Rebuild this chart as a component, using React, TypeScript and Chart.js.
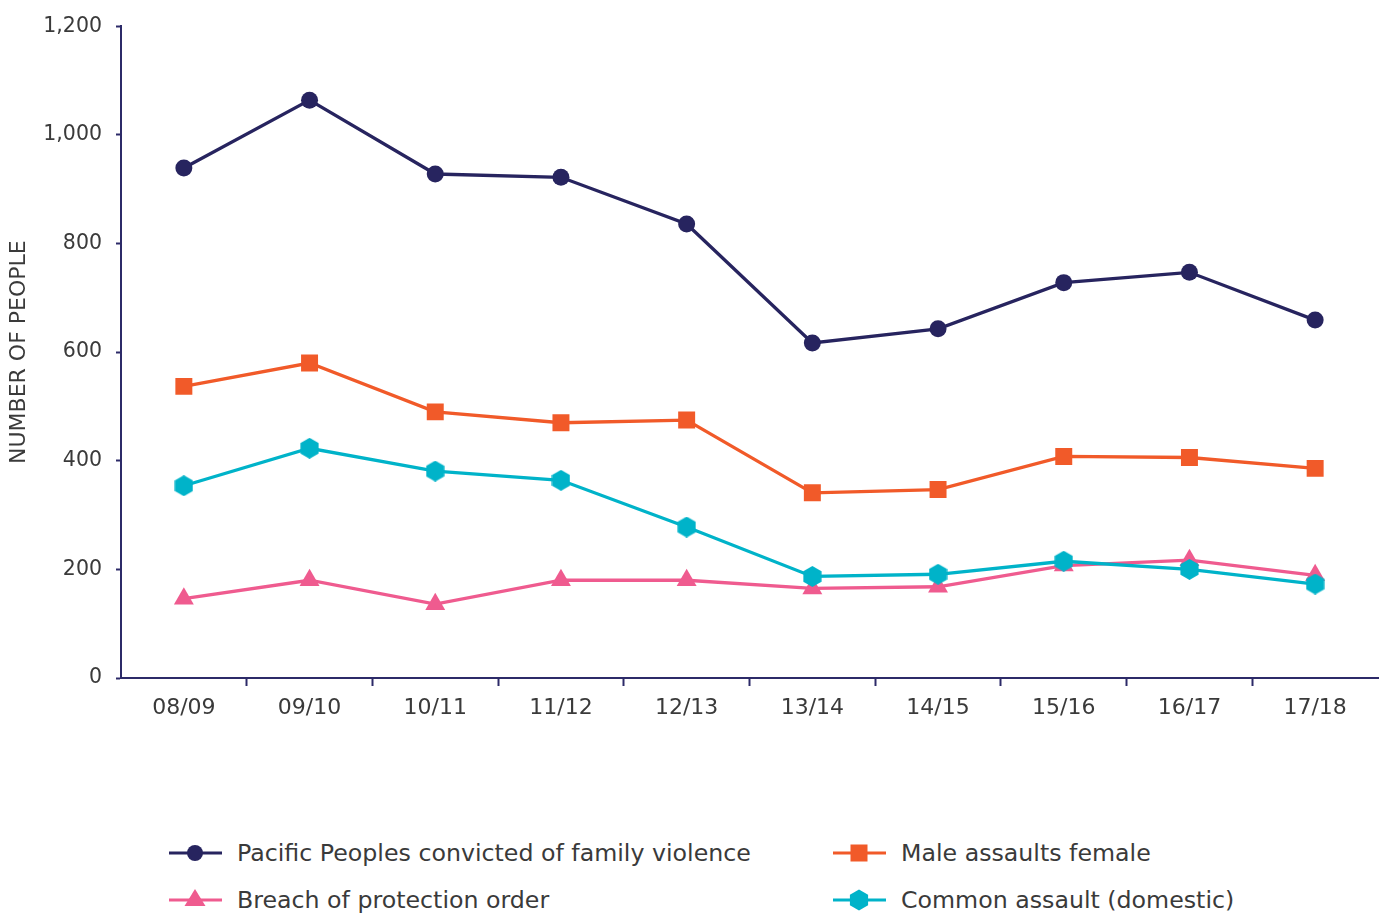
import React, { useEffect, useRef } from "react";
import { Chart, registerables } from "chart.js";

Chart.register(...registerables);

const categories = ["08/09", "09/10", "10/11", "11/12", "12/13", "13/14", "14/15", "15/16", "16/17", "17/18"];
const pacificConvicted = [939, 1064, 928, 922, 836, 617, 643, 728, 747, 659];
const maleAssaultsFemale = [537, 580, 490, 470, 475, 341, 347, 408, 406, 386];
const commonAssault = [354, 423, 381, 364, 278, 187, 191, 215, 200, 173];
const breachProtection = [146, 180, 136, 180, 180, 165, 168, 207, 217, 189];
const yTicks = [0, 200, 400, 600, 800, 1000, 1200];

const NAVY = "#27245f";
const ORANGE = "#f15a29";
const TEAL = "#00b3c9";
const PINK = "#ef5b8f";
const AXIS = "#2c2a68";
const TEXT = "#3a3a3a";
const FONT = "'DejaVu Sans', sans-serif";

function makeHexagon(color: string, r: number): HTMLCanvasElement {
  const w = Math.ceil(Math.sqrt(3) * r);
  const h = Math.ceil(2 * r);
  const c = document.createElement("canvas");
  c.width = w;
  c.height = h;
  const ctx = c.getContext("2d")!;
  ctx.fillStyle = color;
  ctx.beginPath();
  for (let i = 0; i < 6; i++) {
    const a = -Math.PI / 2 + (i * Math.PI) / 3;
    const x = w / 2 + r * Math.cos(a);
    const y = h / 2 + r * Math.sin(a);
    if (i === 0) ctx.moveTo(x, y);
    else ctx.lineTo(x, y);
  }
  ctx.closePath();
  ctx.fill();
  return c;
}

function LegendMarker({ kind, color }: { kind: string; color: string }) {
  const cx = 26;
  const cy = 15;
  let shape: React.ReactNode = null;
  if (kind === "circle") shape = <circle cx={cx} cy={cy} r={8} fill={color} />;
  if (kind === "rect") shape = <rect x={cx - 8.5} y={cy - 8.5} width={17} height={17} fill={color} />;
  if (kind === "triangle")
    shape = <polygon points={`${cx},${cy - 11} ${cx + 10.5},${cy + 6} ${cx - 10.5},${cy + 6}`} fill={color} />;
  if (kind === "hex") {
    const r = 10.5;
    const pts: string[] = [];
    for (let i = 0; i < 6; i++) {
      const a = -Math.PI / 2 + (i * Math.PI) / 3;
      pts.push(`${cx + r * Math.cos(a)},${cy + r * Math.sin(a)}`);
    }
    shape = <polygon points={pts.join(" ")} fill={color} />;
  }
  return (
    <svg width={53} height={30} style={{ display: "block" }}>
      <line x1={0} y1={cy} x2={53} y2={cy} stroke={color} strokeWidth={3} />
      {shape}
    </svg>
  );
}

const legendItems = [
  { label: "Pacific Peoples convicted of family violence", kind: "circle", color: NAVY, left: 169, top: 853 },
  { label: "Male assaults female", kind: "rect", color: ORANGE, left: 833, top: 853 },
  { label: "Breach of protection order", kind: "triangle", color: PINK, left: 169, top: 900 },
  { label: "Common assault (domestic)", kind: "hex", color: TEAL, left: 833, top: 900 },
];

export default function App() {
  const canvasRef = useRef<HTMLCanvasElement | null>(null);

  useEffect(() => {
    if (!canvasRef.current) return;
    const hex = makeHexagon(TEAL, 10.5);
    const chart = new Chart(canvasRef.current, {
      type: "line",
      data: {
        labels: categories,
        datasets: [
          {
            label: "Pacific Peoples convicted of family violence",
            data: pacificConvicted,
            borderColor: NAVY,
            backgroundColor: NAVY,
            borderWidth: 3.3,
            pointStyle: "circle",
            pointRadius: 8.5,
            pointBorderWidth: 0,
          },
          {
            label: "Male assaults female",
            data: maleAssaultsFemale,
            borderColor: ORANGE,
            backgroundColor: ORANGE,
            borderWidth: 3.3,
            pointStyle: "rect",
            pointRadius: 12,
            pointBorderWidth: 0,
          },
          {
            label: "Common assault (domestic)",
            data: commonAssault,
            borderColor: TEAL,
            backgroundColor: TEAL,
            borderWidth: 3.3,
            pointStyle: hex as any,
            pointRadius: 10,
            pointBorderWidth: 0,
          },
          {
            label: "Breach of protection order",
            data: breachProtection,
            borderColor: PINK,
            backgroundColor: PINK,
            borderWidth: 3.3,
            pointStyle: "triangle",
            pointRadius: 11.5,
            pointBorderWidth: 0,
          },
        ],
      },
      options: {
        animation: false,
        responsive: false,
        maintainAspectRatio: false,
        layout: { padding: { top: 23, right: 10, left: 0, bottom: 0 } },
        plugins: {
          legend: { display: false },
          tooltip: { enabled: false },
        },
        scales: {
          x: {
            type: "category",
            offset: true,
            border: { display: true, color: AXIS, width: 2 },
            grid: {
              display: true,
              offset: true,
              drawOnChartArea: false,
              drawTicks: true,
              tickLength: 8,
              tickWidth: 2,
              tickColor: (ctx: any) =>
                ctx.type !== "tick" || ctx.index === 0 ? "rgba(0,0,0,0)" : AXIS,
            },
            ticks: {
              color: TEXT,
              font: { family: FONT, size: 22 },
              padding: 9,
              maxRotation: 0,
            },
            afterFit: (scale: any) => {
              scale.height = 82;
            },
          },
          y: {
            min: 0,
            max: 1200,
            border: { display: true, color: AXIS, width: 2 },
            grid: {
              display: true,
              drawOnChartArea: false,
              drawTicks: true,
              tickLength: 5,
              tickWidth: 2,
              tickColor: AXIS,
            },
            afterBuildTicks: (scale: any) => {
              scale.ticks = yTicks.map((v) => ({ value: v }));
            },
            ticks: {
              color: TEXT,
              font: { family: FONT, size: 20.5 },
              padding: 14,
              callback: (v: any) => Number(v).toLocaleString("en-US"),
            },
            title: {
              display: true,
              text: "NUMBER OF PEOPLE",
              color: TEXT,
              font: { family: FONT, size: 22 },
              padding: { top: 6, bottom: 0 },
            },
            afterFit: (scale: any) => {
              scale.width = 121;
            },
          },
        },
      },
    });
    return () => chart.destroy();
  }, []);

  return (
    <div style={{ position: "absolute", left: 0, top: 0, width: 1390, height: 917, background: "#ffffff", overflow: "hidden" }}>
      <canvas ref={canvasRef} width={1390} height={760} style={{ display: "block", width: 1390, height: 760 }} />
      {legendItems.map((it) => (
        <div
          key={it.label}
          style={{
            position: "absolute",
            left: it.left,
            top: it.top - 15,
            height: 30,
            display: "flex",
            alignItems: "center",
            whiteSpace: "nowrap",
          }}
        >
          <LegendMarker kind={it.kind} color={it.color} />
          <span
            style={{
              marginLeft: 15,
              fontFamily: FONT,
              fontSize: 23.7,
              color: "#3a3a3a",
              lineHeight: "30px",
            }}
          >
            {it.label}
          </span>
        </div>
      ))}
    </div>
  );
}
